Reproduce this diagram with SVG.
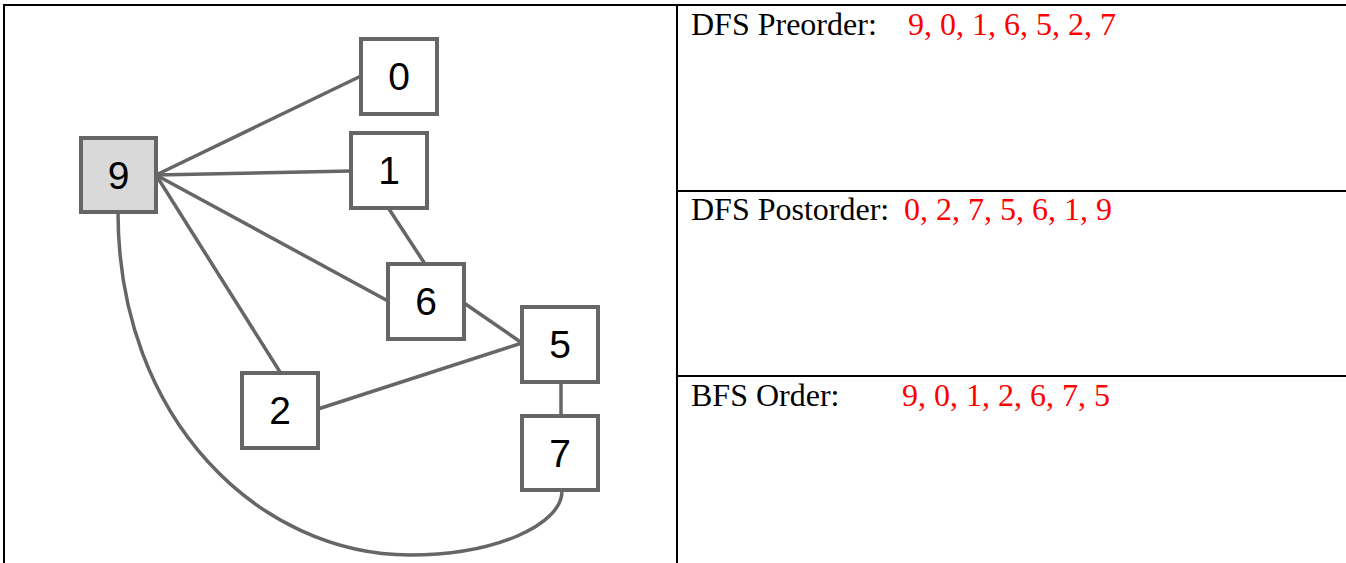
<svg xmlns="http://www.w3.org/2000/svg" width="1346" height="563" viewBox="0 0 1346 563">
<style>
.node rect{fill:#fff;stroke:#666;stroke-width:4}
.node.root rect{fill:#d9d9d9}
.node text{font-family:"Liberation Sans",Arial,sans-serif;font-size:39px;fill:#000;text-anchor:middle}
.edge{stroke:#666;stroke-width:3.5;fill:none}
.tbl{stroke:#000;stroke-width:2;fill:none}
.lbl{font-family:"Liberation Serif","Times New Roman",serif;font-size:32px;fill:#000}
.val{font-family:"Liberation Serif","Times New Roman",serif;font-size:32px;fill:#f00}
</style>
<rect width="1346" height="563" fill="#fff"/>
<g id="table">
<path class="tbl" d="M4,563 V5 H1346 M677,5 V563 M677,191 H1346 M677,376 H1346"/>
</g>
<g id="connectors">
<line class="edge" x1="156" y1="175" x2="361" y2="76"/>
<line class="edge" x1="156" y1="175" x2="351" y2="171"/>
<line class="edge" x1="156" y1="175" x2="388" y2="301"/>
<line class="edge" x1="156" y1="175" x2="280" y2="372"/>
<line class="edge" x1="389" y1="209" x2="425" y2="264"/>
<line class="edge" x1="464" y1="303" x2="522" y2="343"/>
<line class="edge" x1="318" y1="409" x2="522" y2="343"/>
<line class="edge" x1="561" y1="382" x2="561" y2="415"/>
<path class="edge" d="M118,212 C118,420 260,555 410,555 C495,555 562,525 562,491"/>
</g>
<g id="node9" class="node root"><rect x="81" y="138" width="75" height="74"/><text x="118.5" y="189">9</text></g>
<g id="node0" class="node"><rect x="361" y="39" width="76" height="75"/><text x="399" y="90">0</text></g>
<g id="node1" class="node"><rect x="351" y="133" width="76" height="75"/><text x="389" y="184">1</text></g>
<g id="node6" class="node"><rect x="388" y="264" width="76" height="75"/><text x="426" y="315">6</text></g>
<g id="node5" class="node"><rect x="522" y="307" width="76" height="75"/><text x="560" y="358">5</text></g>
<g id="node2" class="node"><rect x="242" y="373" width="76" height="75"/><text x="280" y="424">2</text></g>
<g id="node7" class="node"><rect x="522" y="416" width="76" height="74"/><text x="560" y="467">7</text></g>
<g id="texts">
<text class="lbl" x="691" y="35">DFS Preorder:</text>
<text class="val" x="908" y="35">9, 0, 1, 6, 5, 2, 7</text>
<text class="lbl" x="691" y="220">DFS Postorder:</text>
<text class="val" x="904" y="220">0, 2, 7, 5, 6, 1, 9</text>
<text class="lbl" x="691" y="406">BFS Order:</text>
<text class="val" x="902" y="406">9, 0, 1, 2, 6, 7, 5</text>
</g>
</svg>
